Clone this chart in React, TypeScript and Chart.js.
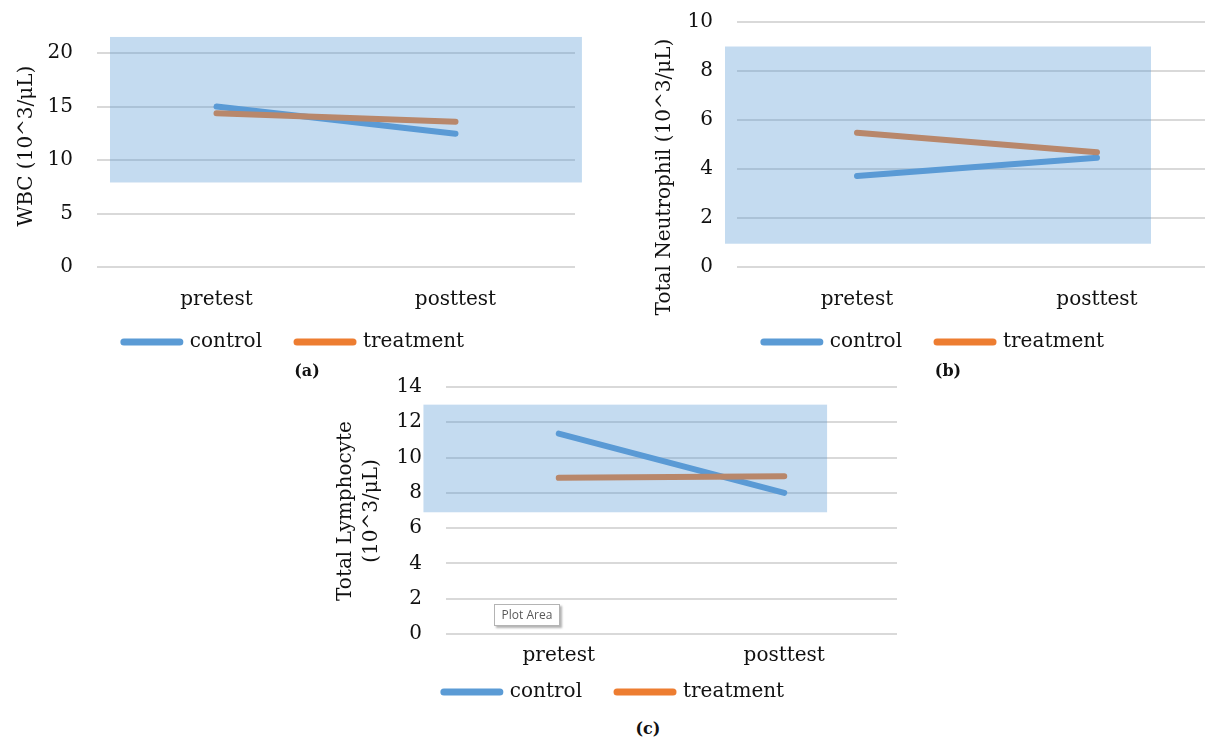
import React, { useEffect, useRef } from 'react';
import { Chart, registerables } from 'chart.js';

Chart.register(...registerables);

// ---------- data ----------
const categories = ['pretest', 'posttest'];
const seriesNames = ['control', 'treatment'];

const wbcControl = [15.0, 12.45];
const wbcTreatment = [14.37, 13.58];
const wbcNormalRange = [7.9, 21.5];
const wbcAxis = [0, 20, 5]; // min, max, step
const wbcTitle = ['WBC (10^3/μL)'];

const neutControl = [3.71, 4.46];
const neutTreatment = [5.48, 4.68];
const neutNormalRange = [0.95, 9.0];
const neutAxis = [0, 10, 2];
const neutTitle = ['Total Neutrophil (10^3/μL)'];

const lymControl = [11.36, 8.0];
const lymTreatment = [8.85, 8.94];
const lymNormalRange = [6.9, 13.0];
const lymAxis = [0, 14, 2];
const lymTitle = ['Total Lymphocyte', '(10^3/μL)'];

const captions = ['(a)', '(b)', '(c)'];

// ---------- styles ----------
const FONT = '"DejaVu Serif", serif';
const TEXT = '#111111';
const CONTROL_COLOR = '#5B9BD5';
const TREATMENT_COLOR = '#ED7D31';
const BAND_COLOR = 'rgba(91,155,213,0.355)';
const GRID_COLOR = '#d9d9d9';

const bandPlugin = {
  id: 'band',
  afterDatasetsDraw(chart: any, _args: any, opts: any) {
    if (!opts || !opts.range) return;
    const { ctx, scales } = chart;
    const x = scales.x;
    const y = scales.y;
    const x0 = x.getPixelForValue(opts.xFrom);
    const x1 = x.getPixelForValue(opts.xTo);
    const y0 = y.getPixelForValue(opts.range[1]);
    const y1 = y.getPixelForValue(opts.range[0]);
    ctx.save();
    ctx.fillStyle = BAND_COLOR;
    ctx.fillRect(x0, y0, x1 - x0, y1 - y0);
    ctx.restore();
  },
};

const yTitlePlugin = {
  id: 'yTitle',
  afterDraw(chart: any, _args: any, opts: any) {
    if (!opts || !opts.lines) return;
    const ctx = chart.ctx;
    ctx.save();
    ctx.font = `20px ${FONT}`;
    ctx.fillStyle = TEXT;
    ctx.textAlign = 'center';
    ctx.textBaseline = 'middle';
    const lines: string[] = opts.lines;
    for (let i = 0; i < lines.length; i++) {
      ctx.save();
      ctx.translate(opts.x + i * 26, opts.y);
      ctx.rotate(-Math.PI / 2);
      ctx.fillText(lines[i], 0, 0);
      ctx.restore();
    }
    ctx.restore();
  },
};

// custom legend: line sample + label, centred at (cx, cy)
const lineLegendPlugin = {
  id: 'lineLegend',
  afterDraw(chart: any, _args: any, opts: any) {
    if (!opts || opts.cx === undefined) return;
    const ctx = chart.ctx;
    const sample = 56;
    const textGap = 10;
    const itemGap = 35;
    ctx.save();
    ctx.font = `20px ${FONT}`;
    const items = chart.data.datasets.map((ds: any) => ({
      text: ds.label,
      color: ds.borderColor,
      w: ctx.measureText(ds.label).width,
    }));
    let total = 0;
    items.forEach((it: any, i: number) => {
      total += sample + textGap + it.w + (i > 0 ? itemGap : 0);
    });
    let x = opts.cx - total / 2;
    items.forEach((it: any) => {
      ctx.strokeStyle = it.color;
      ctx.lineWidth = 7;
      ctx.lineCap = 'round';
      ctx.beginPath();
      ctx.moveTo(x, opts.cy);
      ctx.lineTo(x + sample, opts.cy);
      ctx.stroke();
      ctx.fillStyle = TEXT;
      ctx.textAlign = 'left';
      ctx.textBaseline = 'middle';
      ctx.fillText(it.text, x + sample + textGap, opts.cy);
      x += sample + textGap + it.w + itemGap;
    });
    ctx.restore();
  },
};

type PanelProps = {
  left: number;
  top: number;
  width: number;
  height: number;
  pad: { top: number; left: number; right: number; bottom: number };
  yWidth: number;
  xHeight: number;
  xTickPad: number;
  control: number[];
  treatment: number[];
  range: number[];
  axis: number[];
  title: string[];
  titleX: number;
  titleY: number;
  bandFrom: number;
  bandTo: number;
  legendX: number;
  legendY: number;
};

function Panel(p: PanelProps) {
  const ref = useRef<HTMLCanvasElement | null>(null);
  useEffect(() => {
    if (!ref.current) return;
    const chart = new Chart(ref.current, {
      type: 'line',
      data: {
        labels: categories,
        datasets: [
          {
            label: seriesNames[0],
            data: p.control,
            borderColor: CONTROL_COLOR,
            backgroundColor: CONTROL_COLOR,
            borderWidth: 6,
            borderCapStyle: 'round',
            pointRadius: 0,
            tension: 0,
            order: 1,
          },
          {
            label: seriesNames[1],
            data: p.treatment,
            borderColor: TREATMENT_COLOR,
            backgroundColor: TREATMENT_COLOR,
            borderWidth: 6,
            borderCapStyle: 'round',
            pointRadius: 0,
            tension: 0,
            order: 0,
          },
        ],
      },
      options: {
        responsive: false,
        animation: false,
        events: [],
        layout: { padding: p.pad },
        scales: {
          x: {
            type: 'category',
            offset: true,
            grid: { display: false, drawTicks: false },
            border: { display: false },
            ticks: {
              color: TEXT,
              padding: p.xTickPad,
              font: { family: FONT, size: 20 },
            },
            afterFit: (s: any) => {
              s.height = p.xHeight;
              s.paddingLeft = 0;
              s.paddingRight = 0;
            },
          },
          y: {
            min: p.axis[0],
            max: p.axis[1],
            grid: { color: GRID_COLOR, lineWidth: 2, drawTicks: false },
            border: { display: false },
            ticks: {
              stepSize: p.axis[2],
              color: TEXT,
              padding: 24,
              font: { family: FONT, size: 20 },
            },
            afterFit: (s: any) => {
              s.width = p.yWidth;
              s.paddingTop = 0;
              s.paddingBottom = 0;
            },
          },
        },
        plugins: {
          tooltip: { enabled: false },
          title: { display: false },
          legend: { display: false },
          band: { range: p.range, xFrom: p.bandFrom, xTo: p.bandTo },
          yTitle: { lines: p.title, x: p.titleX, y: p.titleY },
          lineLegend: { cx: p.legendX, cy: p.legendY },
        } as any,
      },
      plugins: [bandPlugin, yTitlePlugin, lineLegendPlugin],
    } as any);
    return () => chart.destroy();
  }, []);
  return (
    <canvas
      ref={ref}
      width={p.width}
      height={p.height}
      style={{
        position: 'absolute',
        left: p.left,
        top: p.top,
        width: p.width,
        height: p.height,
        display: 'block',
      }}
    />
  );
}

function Caption({ text, x, y }: { text: string; x: number; y: number }) {
  return (
    <div
      style={{
        position: 'absolute',
        left: x - 30,
        top: y - 11,
        width: 60,
        height: 22,
        lineHeight: '22px',
        textAlign: 'center',
        fontFamily: FONT,
        fontWeight: 'bold',
        fontSize: 16,
        color: TEXT,
        zIndex: 2,
      }}
    >
      {text}
    </div>
  );
}

export default function App() {
  return (
    <div
      style={{
        position: 'absolute',
        left: 0,
        top: 0,
        width: 1205,
        height: 740,
        overflow: 'hidden',
        background: '#ffffff',
      }}
    >
      <Panel
        left={13}
        top={0}
        width={575}
        height={362}
        pad={{ top: 53, left: 0, right: 13, bottom: 0 }}
        yWidth={84}
        xHeight={95}
        xTickPad={21}
        control={wbcControl}
        treatment={wbcTreatment}
        range={wbcNormalRange}
        axis={wbcAxis}
        title={wbcTitle}
        titleX={14}
        titleY={146}
        bandFrom={-0.4456}
        bandTo={1.529}
        legendX={281}
        legendY={342}
      />
      <Panel
        left={631}
        top={0}
        width={598}
        height={362}
        pad={{ top: 22, left: 20, right: 12, bottom: 0 }}
        yWidth={86}
        xHeight={95}
        xTickPad={21}
        control={neutControl}
        treatment={neutTreatment}
        range={neutNormalRange}
        axis={neutAxis}
        title={neutTitle}
        titleX={34}
        titleY={177}
        bandFrom={-0.55}
        bandTo={1.225}
        legendX={303}
        legendY={342}
      />
      <Panel
        left={331}
        top={370}
        width={578}
        height={342}
        pad={{ top: 17, left: 0, right: 12, bottom: 0 }}
        yWidth={115}
        xHeight={78}
        xTickPad={10}
        control={lymControl}
        treatment={lymTreatment}
        range={lymNormalRange}
        axis={lymAxis}
        title={lymTitle}
        titleX={15}
        titleY={141}
        bandFrom={-0.6}
        bandTo={1.19}
        legendX={283}
        legendY={322}
      />
      <Caption text={captions[0]} x={307} y={371} />
      <Caption text={captions[1]} x={948} y={371} />
      <Caption text={captions[2]} x={648} y={729} />
      <div
        style={{
          position: 'absolute',
          left: 494,
          top: 604,
          width: 64,
          height: 20,
          border: '1px solid #b4b4b4',
          background: '#ffffff',
          boxShadow: '2px 2px 2px rgba(0,0,0,0.3)',
          fontFamily: '"Open Sans", "Noto Sans", sans-serif',
          fontSize: 12,
          lineHeight: '20px',
          textAlign: 'center',
          color: '#595959',
          zIndex: 3,
        }}
      >
        Plot Area
      </div>
    </div>
  );
}
